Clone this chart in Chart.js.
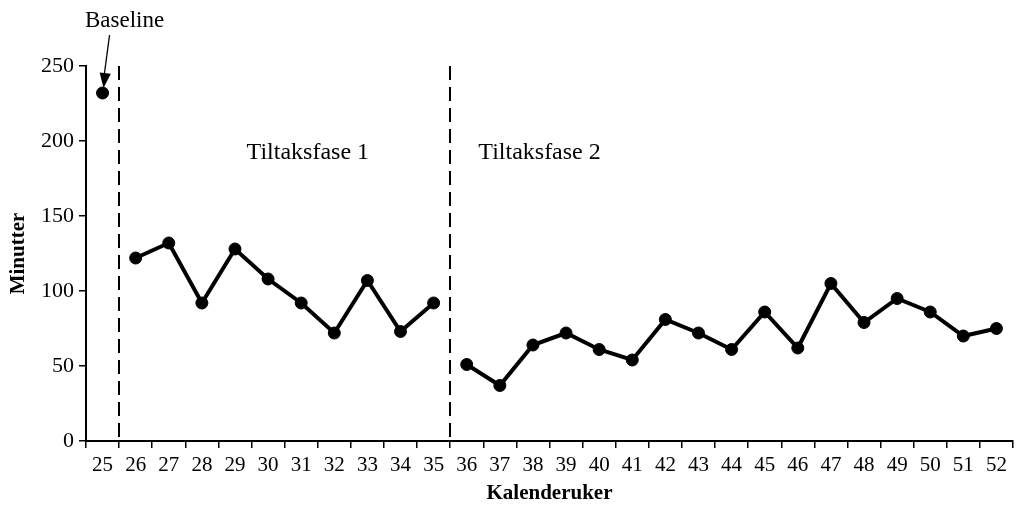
<!DOCTYPE html>
<html>
<head>
<meta charset="utf-8">
<script src="https://cdn.jsdelivr.net/npm/chart.js@4"></script>
<style>
  html, body { margin: 0; padding: 0; background: #fff; }
  #wrap { width: 1020px; height: 508px; }
</style>
</head>
<body>
<div id="wrap"><canvas id="myChart" width="1020" height="508"></canvas></div>
<script>
// kalenderuker 25..52
const weeks = ['25', '26', '27', '28', '29', '30', '31', '32', '33', '34', '35', '36', '37', '38',
  '39', '40', '41', '42', '43', '44', '45', '46', '47', '48', '49', '50', '51', '52'];

const baseline = [232];
const fase1 = [122, 132, 92, 128, 108, 92, 72, 107, 73, 92];
const fase2 = [51, 37, 64, 72, 61, 54, 81, 72, 61, 86, 62, 105, 79, 95, 86, 70, 75];

const yTicks = [0, 50, 100, 150, 200, 250];

// pad each phase with nulls so they sit on the right weeks
function place(values, start) {
  let out = weeks.map(() => null);
  values.forEach((v, i) => { out[start + i] = v; });
  return out;
}

const fontFam = '"Liberation Serif", "Times New Roman", serif';

const phasePlugin = {
  id: 'phases',
  afterDatasetsDraw(chart) {
    const c = chart.ctx;
    const x = chart.scales.x;
    const y = chart.scales.y;
    const top = chart.chartArea.top;
    const bottom = chart.chartArea.bottom;

    // dashed lines between phases
    c.save();
    c.strokeStyle = '#000';
    c.lineWidth = 2;
    c.setLineDash([14, 7]);
    [0.5, 10.5].forEach(pos => {
      let px = Math.round(x.getPixelForValue(pos));
      c.beginPath();
      c.moveTo(px, top);
      c.lineTo(px, bottom);
      c.stroke();
    });
    c.restore();

    // phase labels
    c.save();
    c.fillStyle = '#000';
    c.font = '24px ' + fontFam;
    c.textBaseline = 'middle';
    c.textAlign = 'center';
    c.fillText('Tiltaksfase 1', x.getPixelForValue(6.2), y.getPixelForValue(192));
    c.textAlign = 'left';
    c.fillText('Tiltaksfase 2', x.getPixelForValue(11.35), y.getPixelForValue(192));

    // baseline label + arrow
    let bx = x.getPixelForValue(0);
    let by = y.getPixelForValue(baseline[0]);
    c.font = '23px ' + fontFam;
    c.textAlign = 'center';
    c.fillText('Baseline', bx + 22, 21);
    let tailX = bx + 7, tailY = 35;
    let tipX = bx + 1, tipY = by - 5;
    c.strokeStyle = '#000';
    c.lineWidth = 1.3;
    c.beginPath();
    c.moveTo(tailX, tailY);
    c.lineTo(tipX, tipY - 8);
    c.stroke();
    let ang = Math.atan2(tipY - tailY, tipX - tailX);
    c.beginPath();
    c.moveTo(tipX, tipY);
    c.lineTo(tipX - 16 * Math.cos(ang - 0.36), tipY - 16 * Math.sin(ang - 0.36));
    c.lineTo(tipX - 16 * Math.cos(ang + 0.36), tipY - 16 * Math.sin(ang + 0.36));
    c.closePath();
    c.fill();
    c.restore();
  }
};

const lineStyle = {
  borderColor: '#000',
  backgroundColor: '#000',
  borderWidth: 4,
  pointRadius: 6,
  pointBorderWidth: 1,
  pointBackgroundColor: '#000',
  pointBorderColor: '#000',
  spanGaps: false,
  tension: 0
};

new Chart(document.getElementById('myChart'), {
  type: 'line',
  data: {
    labels: weeks,
    datasets: [
      Object.assign({ label: 'Baseline', data: place(baseline, 0) }, lineStyle),
      Object.assign({ label: 'Tiltaksfase 1', data: place(fase1, 1) }, lineStyle),
      Object.assign({ label: 'Tiltaksfase 2', data: place(fase2, 11) }, lineStyle)
    ]
  },
  options: {
    responsive: false,
    animation: false,
    events: [],
    layout: { padding: { top: 66, right: 3, left: 0, bottom: 0 } },
    plugins: {
      legend: { display: false },
      title: { display: false },
      tooltip: { enabled: false }
    },
    scales: {
      x: {
        offset: true,
        afterFit(scale) { scale.height = 67; },
        grid: { offset: true, drawOnChartArea: false, drawTicks: true, tickLength: 7, color: '#000', lineWidth: 1.5 },
        border: { display: true, color: '#000', width: 2 },
        ticks: { color: '#000', padding: 5, maxRotation: 0, autoSkip: false, font: { family: fontFam, size: 21 } },
        title: {
          display: true, text: 'Kalenderuker', color: '#000',
          padding: { top: 0, bottom: 2 },
          font: { family: fontFam, size: 21, weight: 'bold' }
        }
      },
      y: {
        min: 0,
        max: 250,
        afterFit(scale) { scale.width = 86; },
        afterBuildTicks(scale) { scale.ticks = yTicks.map(v => ({ value: v })); },
        grid: { drawOnChartArea: false, drawTicks: true, tickLength: 7, color: '#000', lineWidth: 1.5 },
        border: { display: true, color: '#000', width: 2 },
        ticks: { color: '#000', padding: 5, font: { family: fontFam, size: 22 } },
        title: {
          display: true, text: 'Minutter', color: '#000',
          padding: { top: 6, bottom: 0 },
          font: { family: fontFam, size: 21, weight: 'bold' }
        }
      }
    }
  },
  plugins: [phasePlugin]
});
</script>
</body>
</html>
